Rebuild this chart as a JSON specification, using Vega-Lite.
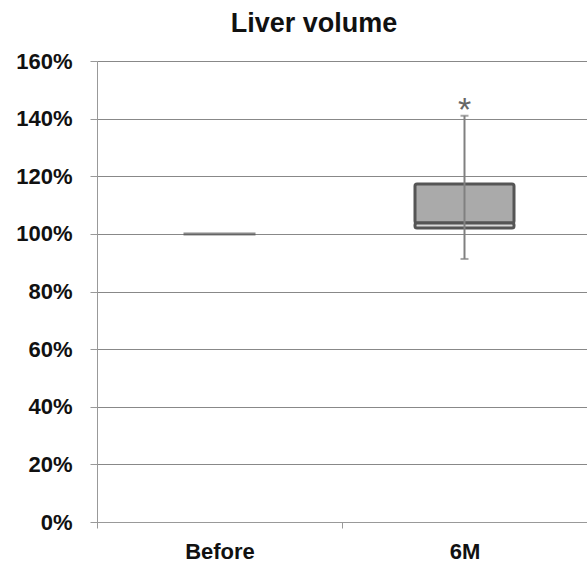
{
  "$schema": "https://vega.github.io/schema/vega-lite/v6.json",
  "width": 490,
  "height": 461,
  "autosize": "none",
  "padding": {"left": 97, "top": 61, "right": 0, "bottom": 47},
  "background": "white",
  "title": {"text": "Liver volume", "fontSize": 27, "font": "Liberation Sans", "fontWeight": "bold", "color": "#111", "anchor": "middle", "dx": -28, "offset": 12},
  "config": {
    "view": {"stroke": null},
    "axis": {"labelFont": "Liberation Sans", "labelFontSize": 22, "labelFontWeight": "bold", "labelColor": "#111"}
  },
  "data": {"values": [
    {"group": "Before", "lower": 1.0, "q1": 1.0, "median": 1.0, "q3": 1.0, "upper": 1.0, "star": ""},
    {"group": "6M", "lower": 0.913, "q1": 1.02, "median": 1.038, "q3": 1.173, "upper": 1.41, "star": "*", "starpos": 1.455}
  ]},
  "encoding": {
    "x": {"field": "group", "type": "nominal", "sort": ["Before", "6M"],
      "scale": {"paddingInner": 0, "paddingOuter": 0},
      "axis": {"title": null, "labelAngle": 0, "labelPadding": 13, "tickBand": "extent", "tickSize": 6, "tickColor": "#999", "domainColor": "#999", "grid": false}}
  },
  "layer": [
    {
      "mark": {"type": "rule", "opacity": 0},
      "encoding": {
        "y": {"field": "lower", "type": "quantitative", "scale": {"domain": [0, 1.6]},
          "axis": {"title": null, "format": ".0%", "values": [0, 0.2, 0.4, 0.6, 0.8, 1.0, 1.2, 1.4, 1.6], "grid": true, "gridColor": "#888", "gridWidth": 1, "domainColor": "#999", "tickColor": "#999", "tickSize": 7, "labelPadding": 18}},
        "y2": {"field": "upper"}
      }
    },
    {
      "transform": [{"filter": "datum.group == '6M'"}],
      "mark": {"type": "bar", "width": 99, "fill": "#aaaaaa", "stroke": "#555", "strokeWidth": 3, "cornerRadius": 2},
      "encoding": {"y": {"field": "median", "type": "quantitative"}, "y2": {"field": "q3"}}
    },
    {
      "transform": [{"filter": "datum.group == '6M'"}],
      "mark": {"type": "bar", "width": 99, "fill": "#d8d8d8", "stroke": "#555", "strokeWidth": 3, "cornerRadius": 2},
      "encoding": {"y": {"field": "q1", "type": "quantitative"}, "y2": {"field": "median"}}
    },
    {
      "transform": [{"filter": "datum.group == '6M'"}],
      "mark": {"type": "rule", "color": "#808080", "strokeWidth": 2},
      "encoding": {"y": {"field": "lower", "type": "quantitative"}, "y2": {"field": "upper"}}
    },
    {
      "transform": [{"filter": "datum.group == '6M'"}],
      "mark": {"type": "tick", "color": "#808080", "size": 8, "thickness": 2},
      "encoding": {"y": {"field": "upper", "type": "quantitative"}}
    },
    {
      "transform": [{"filter": "datum.group == '6M'"}],
      "mark": {"type": "tick", "color": "#808080", "size": 8, "thickness": 2},
      "encoding": {"y": {"field": "lower", "type": "quantitative"}}
    },
    {
      "transform": [{"filter": "datum.group == 'Before'"}],
      "mark": {"type": "tick", "color": "#555", "size": 72, "thickness": 3},
      "encoding": {"y": {"field": "median", "type": "quantitative"}}
    },
    {
      "transform": [{"filter": "datum.group == '6M'"}],
      "mark": {"type": "text", "fontSize": 34, "font": "Liberation Sans", "color": "#666", "baseline": "middle", "dy": 8},
      "encoding": {"y": {"field": "starpos", "type": "quantitative"}, "text": {"field": "star"}}
    }
  ]
}
